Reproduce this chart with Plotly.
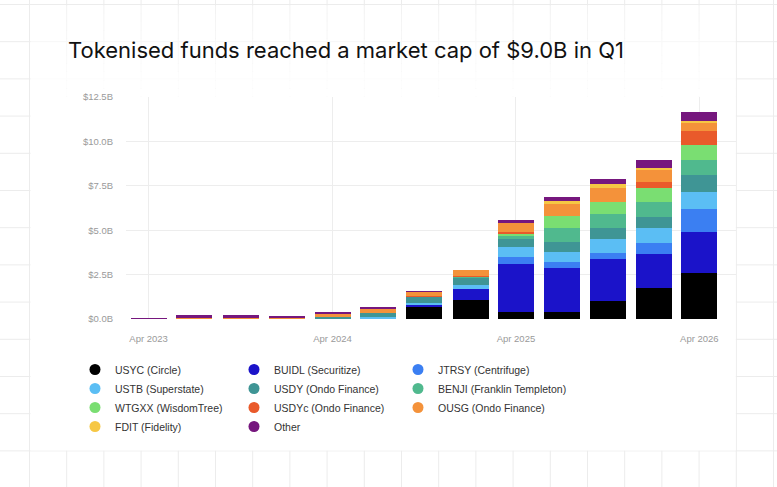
import plotly.graph_objects as go

# quarter snapshots ($B)
dates = ["2023-04-01", "2023-07-01", "2023-10-01", "2024-01-01", "2024-04-01",
         "2024-07-01", "2024-10-01", "2025-01-01", "2025-04-01", "2025-07-01",
         "2025-10-01", "2026-01-01", "2026-04-01"]

usyc = [0, 0, 0, 0, 0, 0, 0.68, 1.09, 0.37, 0.41, 0.99, 1.76, 2.61]
buidl = [0, 0, 0, 0, 0, 0, 0.09, 0.60, 2.73, 2.46, 2.41, 1.90, 2.31]
jtrsy = [0, 0, 0, 0, 0, 0, 0, 0, 0.37, 0.36, 0.32, 0.64, 1.25]
ustb = [0, 0, 0, 0, 0, 0.11, 0.13, 0.24, 0.56, 0.54, 0.80, 0.84, 1.00]
usdy = [0, 0, 0, 0, 0.13, 0.24, 0.36, 0.38, 0.51, 0.58, 0.60, 0.62, 0.94]
benji = [0, 0, 0, 0, 0, 0, 0, 0.07, 0.11, 0.77, 0.81, 0.84, 0.86]
wtgxx = [0, 0, 0, 0, 0, 0, 0, 0, 0.19, 0.66, 0.67, 0.75, 0.80]
usdyc = [0, 0, 0, 0, 0, 0, 0.05, 0.06, 0.06, 0, 0, 0.34, 0.79]
ousg = [0, 0.11, 0.11, 0.11, 0.17, 0.23, 0.21, 0.34, 0.56, 0.71, 0.75, 0.68, 0.48]
fdit = [0, 0, 0, 0, 0, 0, 0, 0, 0, 0.17, 0.25, 0.13, 0.13]
other = [0.05, 0.09, 0.09, 0.04, 0.05, 0.06, 0.02, 0, 0.09, 0.19, 0.30, 0.45, 0.50]

# name, values, colour, legend column
series = [
    ("USYC (Circle)", usyc, "#000000", "legend"),
    ("BUIDL (Securitize)", buidl, "#1b13c9", "legend2"),
    ("JTRSY (Centrifuge)", jtrsy, "#3b7ff2", "legend3"),
    ("USTB (Superstate)", ustb, "#5bbef4", "legend"),
    ("USDY (Ondo Finance)", usdy, "#3f9595", "legend2"),
    ("BENJI (Franklin Templeton)", benji, "#50b98e", "legend3"),
    ("WTGXX (WisdomTree)", wtgxx, "#7ade72", "legend"),
    ("USDYc (Ondo Finance)", usdyc, "#e95a2b", "legend2"),
    ("OUSG (Ondo Finance)", ousg, "#f4923a", "legend3"),
    ("FDIT (Fidelity)", fdit, "#f6c744", "legend"),
    ("Other", other, "#76177e", "legend2"),
]

W, H = 777, 487
L, R, T, B = 126, 41, 97, 168
PW = W - L - R
PH = H - T - B


def px_x(px):
    return (px - L) / PW


def px_y(py):
    return (H - B - py) / PH


fig = go.Figure()

bar_w = 71.6 * 86400000  # ~72 days in ms
for name, vals, col, leg in series:
    fig.add_trace(go.Bar(x=dates, y=vals, name=name, width=bar_w,
                         marker=dict(color=col, line=dict(width=0)),
                         showlegend=False))

# legend entries with round markers
for name, vals, col, leg in series:
    fig.add_trace(go.Scatter(x=[None], y=[None], mode="markers", name=name,
                             marker=dict(color=col, size=11), legend=leg))

# page background: faint square grid, card fading in from the top
shapes = []
gx = 29.5
while gx < W:
    shapes.append(dict(type="line", xref="paper", yref="paper", layer="below",
                       x0=px_x(gx), x1=px_x(gx), y0=px_y(0), y1=px_y(H),
                       line=dict(color="#ececec", width=1)))
    gx += 37.2
gy = 4.5
while gy < H:
    shapes.append(dict(type="line", xref="paper", yref="paper", layer="below",
                       x0=px_x(0), x1=px_x(W), y0=px_y(gy), y1=px_y(gy),
                       line=dict(color="#ececec", width=1)))
    gy += 37.2

card_x0, card_x1 = 30.5, 735.8
fade_top, fade_bot = 5.5, 105
n_band = 12
step = (fade_bot - fade_top) / n_band
for i in range(n_band):
    shapes.append(dict(type="rect", xref="paper", yref="paper", layer="below",
                       x0=px_x(card_x0), x1=px_x(card_x1),
                       y0=px_y(fade_top + i * step), y1=px_y(fade_top + (i + 1) * step),
                       fillcolor="white", line=dict(width=0),
                       opacity=0.35 + 0.65 * i / (n_band - 1)))
shapes.append(dict(type="rect", xref="paper", yref="paper", layer="below",
                   x0=px_x(card_x0), x1=px_x(card_x1),
                   y0=px_y(fade_bot), y1=px_y(450.5),
                   fillcolor="white", line=dict(width=0)))

tick_font = dict(family="Liberation Sans, Arial", size=9.5, color="#9a9a9a")
leg_common = dict(orientation="v", yanchor="top", xanchor="left", traceorder="normal",
                  bgcolor="rgba(0,0,0,0)", font=dict(family="Liberation Sans, Arial",
                                                     size=10.5, color="#333333"),
                  tracegroupgap=0)

fig.update_layout(
    width=W, height=H,
    margin=dict(l=L, r=R, t=T, b=B, autoexpand=False),
    paper_bgcolor="white",
    plot_bgcolor="rgba(0,0,0,0)",
    barmode="stack",
    bargap=0,
    shapes=shapes,
    annotations=[dict(text="Tokenised funds reached a market cap of $9.0B in Q1",
                      xref="paper", yref="paper", x=px_x(66), y=px_y(50),
                      xanchor="left", yanchor="middle", showarrow=False,
                      font=dict(family="Inter", size=22, color="#111111"))],
    xaxis=dict(type="date", range=["2023-02-15", "2026-06-13"],
               tick0="2023-04-01", dtick="M12", tickformat="%b %Y",
               showgrid=True, gridcolor="#ededed", gridwidth=1,
               zeroline=False, showline=False, ticks="",
               ticklabelstandoff=12, tickfont=tick_font),
    yaxis=dict(range=[0, 12.5], dtick=2.5, tickprefix="$", ticksuffix="B",
               tickformat=".1f", showgrid=True, gridcolor="#ededed", gridwidth=1,
               zeroline=False, showline=False, ticks="",
               ticklabelstandoff=12, tickfont=tick_font),
    legend=dict(x=px_x(75), y=px_y(355), **leg_common),
    legend2=dict(x=px_x(234), y=px_y(355), **leg_common),
    legend3=dict(x=px_x(398), y=px_y(355), **leg_common),
)

fig.write_html("out.html", config={"displayModeBar": False},
               post_script="document.body.style.margin='0';")
